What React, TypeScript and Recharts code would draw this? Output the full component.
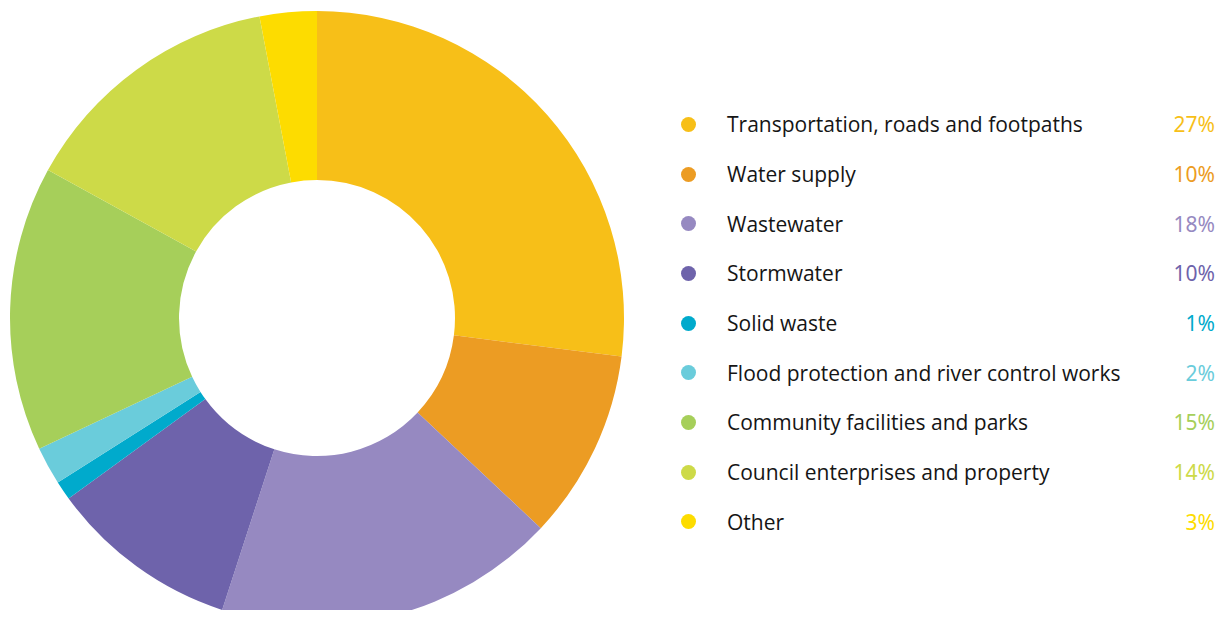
import { PieChart, Pie, Cell, Legend } from 'recharts';

const categories = [
  'Transportation, roads and footpaths',
  'Water supply',
  'Wastewater',
  'Stormwater',
  'Solid waste',
  'Flood protection and river control works',
  'Community facilities and parks',
  'Council enterprises and property',
  'Other',
];
const shares = [27, 10, 18, 10, 1, 2, 15, 14, 3];
const colors = ['#F7BF18', '#EC9C23', '#9689C1', '#6E63AB', '#00AACC', '#6ACCDB', '#A6CF5A', '#CDDA48', '#FDDC00'];

const data = categories.map((name, i) => ({ name, value: shares[i] }));

function LegendList() {
  return (
    <div style={{ width: 535 }}>
      {data.map((d, i) => (
        <div
          key={d.name}
          style={{ display: 'flex', alignItems: 'center', height: 49.7, position: 'relative' }}
        >
          <span
            style={{
              width: 15,
              height: 15,
              borderRadius: '50%',
              background: colors[i],
              marginLeft: 1,
              marginRight: 31,
              flexShrink: 0,
            }}
          />
          <span style={{ fontFamily: '"Open Sans", sans-serif', fontSize: 21, color: '#151515' }}>{d.name}</span>
          <span
            style={{
              position: 'absolute',
              right: 0,
              fontFamily: '"Noto Sans", sans-serif',
              fontWeight: 400,
              fontSize: 21,
              color: colors[i],
            }}
          >
            {d.value}%
          </span>
        </div>
      ))}
    </div>
  );
}

export default function App() {
  return (
    <div style={{ margin: -8, background: '#fff', width: 1224, height: 618, overflow: 'hidden' }}>
      <PieChart width={1224} height={618} margin={{ top: 0, right: 0, bottom: 0, left: 0 }}>
        <Pie
          data={data}
          dataKey="value"
          nameKey="name"
          cx={317}
          cy={318}
          outerRadius={307}
          innerRadius={138}
          startAngle={90}
          endAngle={-270}
          stroke="none"
          isAnimationActive={false}
        >
          {data.map((d, i) => (
            <Cell key={d.name} fill={colors[i]} />
          ))}
        </Pie>
        <Legend
          content={() => <LegendList />}
          wrapperStyle={{ position: 'absolute', left: 680, top: 99.5, width: 535 }}
        />
      </PieChart>
    </div>
  );
}
